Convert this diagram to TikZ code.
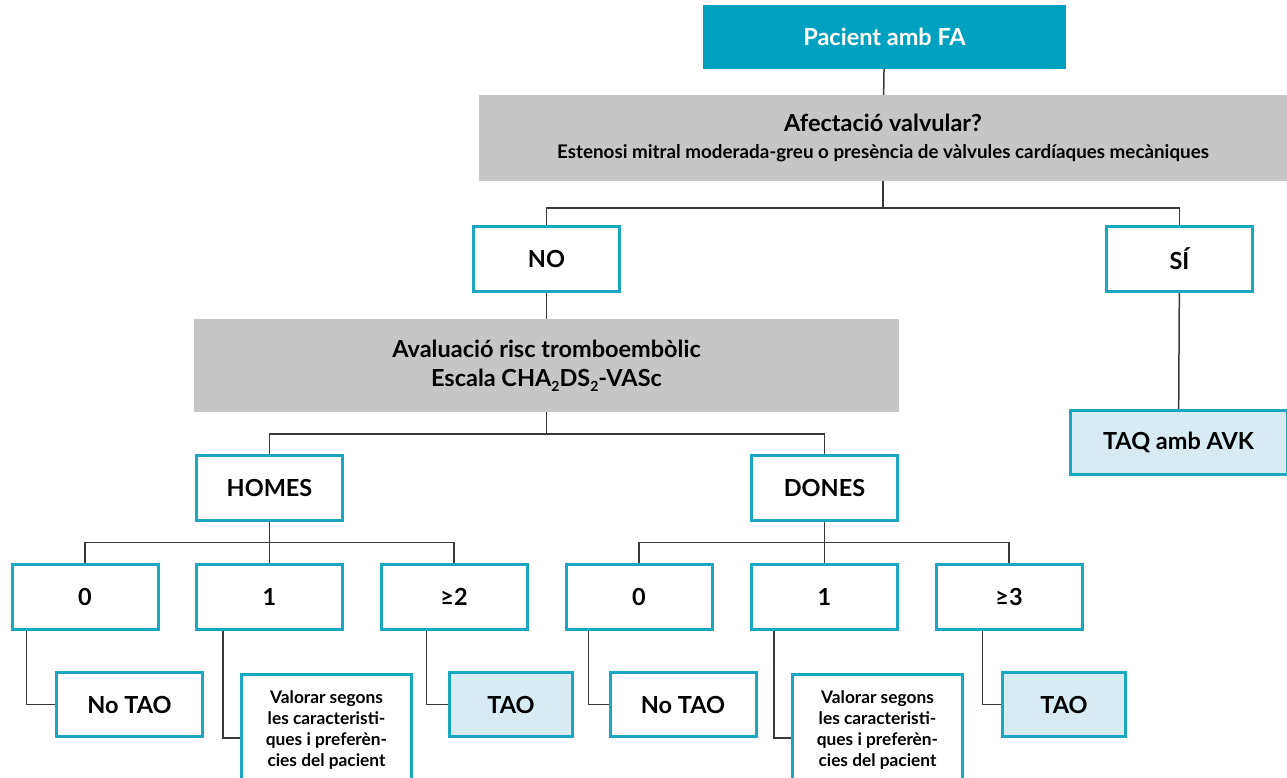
\documentclass[tikz,border=0pt]{standalone}
\usepackage{fontspec}
\setmainfont{Lato}
\usetikzlibrary{positioning}

\definecolor{tealfa}{HTML}{00A1BF}
\definecolor{tealline}{HTML}{1AA7C2}
\definecolor{grisbox}{HTML}{C6C6C6}
\definecolor{bluelight}{HTML}{D6ECF2}
\definecolor{connector}{HTML}{3A3A3A}

\tikzset{
  base/.style={font=\bfseries\fontsize{23.5}{27}\selectfont, align=center, inner sep=0pt},
  headbox/.style={base, fill=tealfa, text=white, minimum width=363, minimum height=64},
  greybox/.style={base, fill=grisbox, text=black},
  optbox/.style={base, draw=tealline, line width=3pt, fill=white, minimum width=146, minimum height=65},
  resbox/.style={optbox, fill=bluelight},
  notebox/.style={optbox, font=\bfseries\fontsize{17.3}{21}\selectfont, minimum width=170, minimum height=112},
  link/.style={draw=connector, line width=1.5pt}
}

\newcommand{\lowsub}[1]{\raisebox{-0.45ex}{\fontsize{14}{14}\selectfont #1}}

\begin{document}
\begin{tikzpicture}[x=1pt, y=-1pt]
\useasboundingbox (0,0) rectangle (1287,777);

% main question
\node[headbox] (fa) at (884.5,37) {Pacient amb FA};
\node[greybox, minimum width=808, minimum height=86] (afect) at (883,138)
  {Afectació valvular?\\[0pt]{\fontsize{18.8}{21}\selectfont Estenosi mitral moderada-greu o presència de vàlvules cardíaques mecàniques}};
\node[optbox] (no) at (546.5,259) {NO};
\node[optbox] (si) at (1179.5,259) {SÍ};
\node[resbox, minimum width=217, minimum height=64] (taq) at (1178.5,442.5) {TAQ amb AVK};

% risk score
\node[greybox, minimum width=705, minimum height=93] (aval) at (546.5,365.5)
  {Avaluació risc tromboembòlic\\[2pt]Escala CHA\lowsub{2}DS\lowsub{2}-VASc};
\node[optbox] (homes) at (269.5,487.5) {HOMES};
\node[optbox] (dones) at (824.5,487.5) {DONES};

% scores
\node[optbox, minimum height=65] (h0) at (85,597) {0};
\node[optbox, minimum height=65] (h1) at (269.5,597) {1};
\node[optbox, minimum height=65] (h2) at (454,597) {≥2};
\node[optbox, minimum height=65] (d0) at (639,597) {0};
\node[optbox, minimum height=65] (d1) at (824.5,597) {1};
\node[optbox, minimum height=65] (d2) at (1009,597) {≥3};

% treatment
\node[optbox, minimum height=64] (h0r) at (129.5,704.5) {No TAO};
\node[notebox, anchor=north] (h1r) at (326.5,672.5) {Valorar segons\\les caracteristi-\\ques i preferèn-\\cies del pacient};
\node[resbox, minimum width=123, minimum height=64] (h2r) at (511,704.5) {TAO};
\node[optbox, minimum height=64] (d0r) at (683,704.5) {No TAO};
\node[notebox, anchor=north] (d1r) at (877.5,672.5) {Valorar segons\\les caracteristi-\\ques i preferèn-\\cies del pacient};
\node[resbox, minimum width=123, minimum height=64] (d2r) at (1064,704.5) {TAO};

% connectors
\path[link] (fa) -- (afect);
\path[link] (afect.south) -- ++(0,27) coordinate (b1) -| (no.north) (b1) -| (si.north);
\path[link] (no) -- (aval);
\path[link] (si) -- (taq);
\path[link] (aval.south) -- ++(0,22) coordinate (b2) -| (homes.north) (b2) -| (dones.north);
\path[link] (homes.south) -- ++(0,21) coordinate (b3) -| (h0.north) (b3) -| (h2.north) (b3) -- (h1.north);
\path[link] (dones.south) -- ++(0,21) coordinate (b4) -| (d0.north) (b4) -| (d2.north) (b4) -- (d1.north);
\path[link] ([xshift=16pt]h0.south west) |- (h0r.west);
\path[link] ([xshift=28pt]h1.south west) |- ([yshift=-8pt]h1r.west);
\path[link] ([xshift=47pt]h2.south west) |- (h2r.west);
\path[link] ([xshift=24pt]d0.south west) |- (d0r.west);
\path[link] ([xshift=24pt]d1.south west) |- ([yshift=-8pt]d1r.west);
\path[link] ([xshift=48pt]d2.south west) |- (d2r.west);
\end{tikzpicture}
\end{document}
